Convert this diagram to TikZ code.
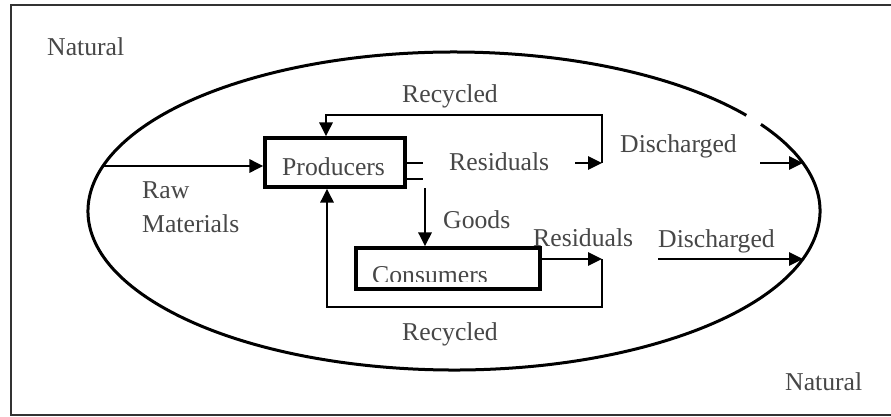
\documentclass[tikz,border=0pt]{standalone}
\usepackage{fontspec}
\setmainfont{Liberation Serif}
\usetikzlibrary{arrows.meta}
\begin{document}
\begin{tikzpicture}[x=1pt,y=-1pt,
  lbl/.style={inner sep=0pt,anchor=base west,text=black!72,font=\fontsize{25.7}{30}\selectfont},
  clbl/.style={lbl,anchor=base},
  boxnode/.style={draw,line width=3.2pt,inner sep=0pt},
  flow/.style={line width=2.9pt,-{Triangle[length=14pt,width=13pt]}},
  plain/.style={line width=2.9pt}]
\useasboundingbox (0,0) rectangle (891,417);
\fill[white] (0,0) rectangle (891,417);
% frame (right side outside the picture)
\draw[line width=2.2pt,black!80] (900,5) -| (11,415) -- (900,415);
% ellipse with a small gap at upper right
\draw[line width=3pt] (454,211) ++(-33:366 and 159)
  arc[start angle=-33,end angle=323,x radius=366,y radius=159];
\coordinate (eL) at (103,166);
\coordinate (eR1) at (803,163);
\coordinate (eR2) at (803,259);
% boxes
\node[boxnode,minimum width=140pt,minimum height=49pt] (prod) at (335,162.5) {};
\node[boxnode,minimum width=184pt,minimum height=41pt] (cons) at (448,268.5) {};
% texts
\node[lbl] (nat1) at (47,56) {Natural};
\node[lbl] (nat2) at (785,390) {Natural};
\node[clbl] (rec1) at (450,103) {Recycled};
\node[lbl] (prodt) at (282,175) {Producers};
\node[lbl] (res1) at (449,170) {Residuals};
\node[lbl] (dis1) at (620,153) {Discharged};
\node[lbl] (raw) at (142,198) {Raw};
\node[lbl] (mat) at (142,232) {Materials};
\node[lbl] (goods) at (443,228) {Goods};
\node[lbl] (res2) at (533,246) {Residuals};
\node[lbl] (dis2) at (658,247) {Discharged};
\node[clbl] (rec2) at (450,340) {Recycled};
\begin{scope}
  \clip (360,250) rectangle (536,281);
  \node[lbl] (const) at (372,283) {Consumers};
\end{scope}
% raw materials in
\draw[flow] (eL) -- (prod.west |- eL);
% producers residuals and recycling loop
\coordinate (p1) at (423,163);
\coordinate (p2) at (423,179);
\draw[plain] (prod.east |- p1) -- (p1);
\draw[plain] (prod.east |- p2) -- (p2);
\coordinate (ra1) at (575,163);
\coordinate (rc1) at (602,163);
\draw[flow] (ra1) -- (rc1);
\draw[flow] (rc1) -- (602,115) -| (prod.north -| 326,0);
% goods
\coordinate (g0) at (425,188);
\draw[flow] (g0) -- (cons.north -| g0);
% consumers residuals and recycling loop
\coordinate (rc2) at (602,259);
\draw[flow] (cons.east |- rc2) -- (rc2);
\draw[flow] (rc2) -- (602,307) -| (prod.south -| 327,0);
% discharged
\coordinate (d1) at (760,163);
\coordinate (d2) at (658,259);
\draw[flow] (d1) -- (eR1);
\draw[flow] (d2) -- (eR2);
\end{tikzpicture}
\end{document}
